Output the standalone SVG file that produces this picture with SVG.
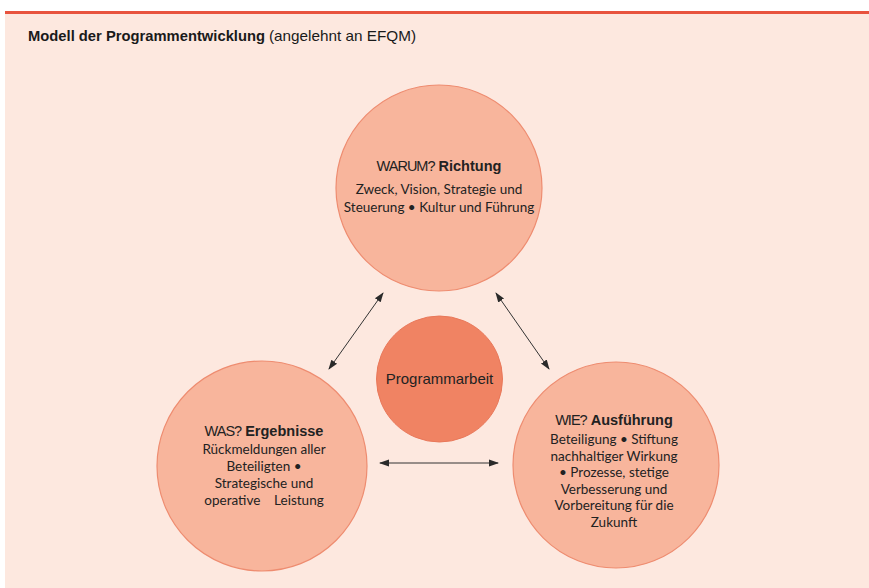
<svg xmlns="http://www.w3.org/2000/svg" width="869" height="588" viewBox="0 0 869 588">
<style>
.bg{fill:#fde8df}
.node{fill:#f8b59c;stroke:#ee8c70;stroke-width:1.2}
.core{fill:#f08363;stroke:#e9785a;stroke-width:1}
.h{font-family:"Liberation Sans",Arial,sans-serif;font-size:14.5px;fill:#222;text-anchor:middle}
.hr{letter-spacing:-1px}
.hb{font-weight:bold}
.b{font-family:Lato,"Noto Sans",sans-serif;font-size:13.5px;fill:#222;text-anchor:middle}
.conn{stroke:#333;stroke-width:1;fill:none;marker-start:url(#ah);marker-end:url(#ah)}
.title{font-family:"Liberation Sans",Arial,sans-serif;font-size:14.5px;fill:#1a1a1a}
</style>
<defs>
<marker id="ah" viewBox="0 0 10 10" refX="9" refY="5" markerWidth="10" markerHeight="10" markerUnits="userSpaceOnUse" orient="auto-start-reverse">
<path d="M0,1.5 L10,5 L0,8.5 z" fill="#2a2a2a"/>
</marker>
</defs>
<rect x="0" y="0" width="869" height="588" fill="#ffffff"/>
<rect class="bg" x="5" y="14" width="864" height="574"/>
<rect x="5" y="11" width="864" height="3" fill="#e8533e"/>
<text class="title" x="28" y="41"><tspan font-weight="bold" textLength="237" lengthAdjust="spacingAndGlyphs">Modell der Programmentwicklung</tspan><tspan dx="4" textLength="147" lengthAdjust="spacingAndGlyphs">(angelehnt an EFQM)</tspan></text>

<g id="connectors">
<line class="conn" x1="383" y1="293" x2="329" y2="369"/>
<line class="conn" x1="496" y1="293" x2="549" y2="369"/>
<line class="conn" x1="380" y1="463" x2="498" y2="463"/>
</g>

<g id="richtung">
<circle class="node" cx="439" cy="188" r="103"/>
<text class="h" x="439" y="171"><tspan class="hr">WARUM?</tspan> <tspan class="hb">Richtung</tspan></text>
<text class="b" x="439" y="194">Zweck, Vision, Strategie und</text>
<text class="b" x="439" y="212">Steuerung • Kultur und Führung</text>
</g>

<g id="ergebnisse">
<circle class="node" cx="262" cy="466" r="105"/>
<text class="h" x="264" y="436"><tspan class="hr">WAS?</tspan> <tspan class="hb">Ergebnisse</tspan></text>
<text class="b" x="264" y="454">Rückmeldungen aller</text>
<text class="b" x="264" y="471">Beteiligten •</text>
<text class="b" x="264" y="488">Strategische und</text>
<text class="b" x="264" y="505" xml:space="preserve">operative    Leistung</text>
</g>

<g id="ausfuehrung">
<circle class="node" cx="616" cy="465" r="103"/>
<text class="h" x="614" y="425"><tspan class="hr">WIE?</tspan> <tspan class="hb">Ausführung</tspan></text>
<text class="b" x="614" y="444">Beteiligung • Stiftung</text>
<text class="b" x="614" y="461">nachhaltiger Wirkung</text>
<text class="b" x="614" y="477">• Prozesse, stetige</text>
<text class="b" x="614" y="494">Verbesserung und</text>
<text class="b" x="614" y="510">Vorbereitung für die</text>
<text class="b" x="614" y="527">Zukunft</text>
</g>

<g id="programmarbeit">
<circle class="core" cx="439.5" cy="379" r="63"/>
<text class="h" x="439.5" y="384" style="font-size:15px">Programmarbeit</text>
</g>
</svg>
